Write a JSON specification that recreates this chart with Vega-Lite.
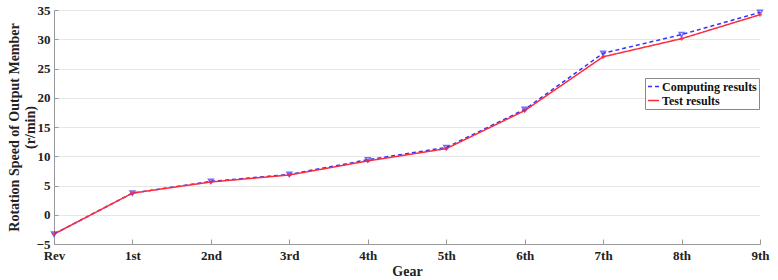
{
  "$schema": "https://vega.github.io/schema/vega-lite/v6.json",
  "width": 706,
  "height": 234,
  "autosize": {"type": "none"},
  "padding": {"left": 54, "top": 10, "right": 18, "bottom": 36},
  "background": "white",
  "config": {
    "font": "Liberation Serif",
    "view": {"stroke": null},
    "axis": {
      "labelFont": "Liberation Serif",
      "titleFont": "Liberation Serif",
      "labelFontWeight": "bold",
      "titleFontWeight": "bold",
      "labelFontSize": 13,
      "titleFontSize": 14,
      "labelColor": "#222",
      "titleColor": "#222",
      "domainColor": "#999",
      "tickColor": "#999"
    }
  },
  "data": {
    "values": [
      {"gear": "Rev", "series": "Computing results", "v": -3.3},
      {"gear": "1st", "series": "Computing results", "v": 3.7},
      {"gear": "2nd", "series": "Computing results", "v": 5.7},
      {"gear": "3rd", "series": "Computing results", "v": 6.9},
      {"gear": "4th", "series": "Computing results", "v": 9.4},
      {"gear": "5th", "series": "Computing results", "v": 11.5},
      {"gear": "6th", "series": "Computing results", "v": 18.0},
      {"gear": "7th", "series": "Computing results", "v": 27.6},
      {"gear": "8th", "series": "Computing results", "v": 30.8},
      {"gear": "9th", "series": "Computing results", "v": 34.6},
      {"gear": "Rev", "series": "Test results", "v": -3.3},
      {"gear": "1st", "series": "Test results", "v": 3.7},
      {"gear": "2nd", "series": "Test results", "v": 5.6},
      {"gear": "3rd", "series": "Test results", "v": 6.8},
      {"gear": "4th", "series": "Test results", "v": 9.2},
      {"gear": "5th", "series": "Test results", "v": 11.3},
      {"gear": "6th", "series": "Test results", "v": 17.8},
      {"gear": "7th", "series": "Test results", "v": 27.0},
      {"gear": "8th", "series": "Test results", "v": 30.1},
      {"gear": "9th", "series": "Test results", "v": 34.2}
    ]
  },
  "encoding": {
    "x": {
      "field": "gear",
      "type": "ordinal",
      "sort": ["Rev", "1st", "2nd", "3rd", "4th", "5th", "6th", "7th", "8th", "9th"],
      "scale": {"type": "point", "padding": 0},
      "axis": {"title": "Gear", "labelAngle": 0, "grid": false, "tickSize": -5, "labelPadding": 10, "titlePadding": 2, "labelFont": "Liberation Serif", "titleFont": "Liberation Serif"}
    },
    "y": {
      "field": "v",
      "type": "quantitative",
      "scale": {"domain": [-5, 35], "nice": false, "zero": false},
      "axis": {
        "title": ["Rotation Speed of Output Member", "(r/min)"],
        "labelFont": "Liberation Serif",
        "titleFont": "Liberation Serif",
        "values": [-5, 0, 5, 10, 15, 20, 25, 30, 35],
        "grid": true,
        "gridColor": "#e6e6e6",
        "tickSize": -4,
        "labelPadding": 8,
        "titleX": -47,
        "titleY": 117,
        "titleBaseline": "top",
        "titleAlign": "center",
        "titleAngle": -90,
        "titleLineHeight": 16
      }
    },
    "color": {
      "field": "series",
      "type": "nominal",
      "scale": {"domain": ["Computing results", "Test results"], "range": ["#3333ff", "#ff2a3a"]},
      "legend": {
        "title": null,
        "orient": "none",
        "legendX": 591,
        "legendY": 68,
        "labelFont": "Liberation Serif",
        "labelFontWeight": "bold",
        "labelFontSize": 12,
        "labelColor": "#111",
        "symbolType": "stroke",
        "symbolSize": 120,
        "symbolStrokeWidth": 1.5,
        "rowPadding": 1,
        "padding": 2,
        "strokeColor": "#888",
        "fillColor": "white",
        "labelOffset": 2
      }
    },
    "strokeDash": {
      "field": "series",
      "type": "nominal",
      "scale": {"domain": ["Computing results", "Test results"], "range": [[4, 3], [1, 0]]},
      "legend": null
    }
  },
  "layer": [
    {"mark": {"type": "line", "strokeWidth": 1.5}},
    {
      "transform": [{"filter": "datum.series === 'Computing results'"}],
      "mark": {"type": "point", "filled": false, "size": 22, "shape": "triangle-down", "strokeWidth": 1.6, "color": "#3333ff"},
      "encoding": {"color": {"value": "#3333ff"}, "strokeDash": {"value": [1, 0]}}
    },
    {
      "transform": [{"filter": "datum.series === 'Test results'"}],
      "mark": {"type": "point", "filled": true, "size": 22, "shape": "diamond", "color": "#ff2a3a"},
      "encoding": {"color": {"value": "#ff2a3a"}, "strokeDash": {"value": [1, 0]}}
    }
  ]
}
